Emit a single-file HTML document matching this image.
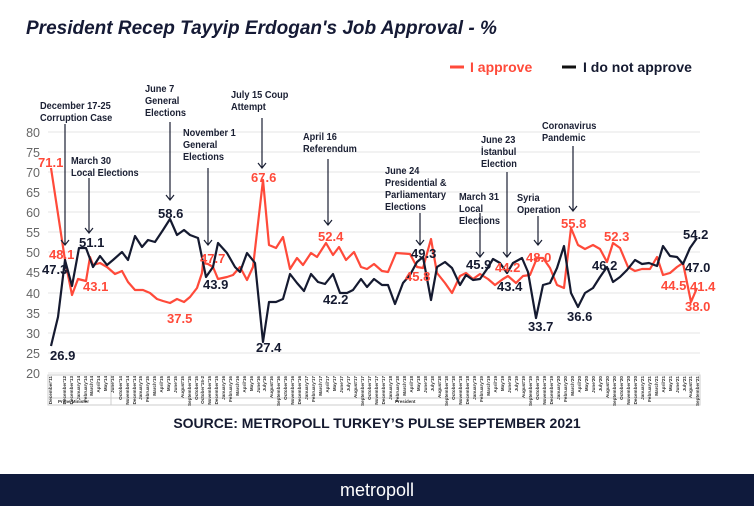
<!DOCTYPE html>
<html><head><meta charset="utf-8"><style>
body{margin:0;background:#fff;width:754px;height:506px;overflow:hidden;font-family:"Liberation Sans",sans-serif}
svg{display:block}
.an{font:bold 10.5px "Liberation Sans",sans-serif;fill:#1a1f33}
.vr{font:bold 13px "Liberation Sans",sans-serif;fill:#ff4a3a}
.vb{font:bold 13px "Liberation Sans",sans-serif;fill:#151a30}
.yl{font:12.5px "Liberation Sans",sans-serif;fill:#666}
.xl{font:bold 4.6px "Liberation Sans",sans-serif;fill:#333}
</style></head><body>
<svg width="754" height="506" viewBox="0 0 754 506" xmlns="http://www.w3.org/2000/svg">
<text x="26" y="34" style="font:italic bold 19px 'Liberation Sans',sans-serif;fill:#151a35">President Recep Tayyip Erdogan's Job Approval - %</text>
<line x1="450" y1="67" x2="464" y2="67" stroke="#ff4a3a" stroke-width="3"/>
<text x="470" y="72" style="font:bold 14px 'Liberation Sans',sans-serif;fill:#ff4a3a">I approve</text>
<line x1="562" y1="67" x2="576" y2="67" stroke="#111" stroke-width="3"/>
<text x="583" y="72" style="font:bold 14px 'Liberation Sans',sans-serif;fill:#151a30">I do not approve</text>
<g stroke="#e4e4e4" stroke-width="1">
<line x1="48" y1="132" x2="700" y2="132"/><line x1="48" y1="152" x2="700" y2="152"/><line x1="48" y1="172" x2="700" y2="172"/><line x1="48" y1="192" x2="700" y2="192"/><line x1="48" y1="212" x2="700" y2="212"/><line x1="48" y1="232" x2="700" y2="232"/><line x1="48" y1="252" x2="700" y2="252"/><line x1="48" y1="272" x2="700" y2="272"/><line x1="48" y1="293" x2="700" y2="293"/><line x1="48" y1="313" x2="700" y2="313"/><line x1="48" y1="333" x2="700" y2="333"/><line x1="48" y1="353" x2="700" y2="353"/><line x1="48" y1="373" x2="700" y2="373"/>
</g>
<g class="yl" text-anchor="end">
<text x="40" y="137">80</text><text x="40" y="157">75</text><text x="40" y="177">70</text><text x="40" y="197">65</text><text x="40" y="217">60</text><text x="40" y="237">55</text><text x="40" y="257">50</text><text x="40" y="277">45</text><text x="40" y="298">40</text><text x="40" y="318">35</text><text x="40" y="338">30</text><text x="40" y="358">25</text><text x="40" y="378">20</text>
</g>
<rect x="48" y="375" width="652" height="30" fill="none" stroke="#ccc"/>
<line x1="48" y1="398" x2="700" y2="398" stroke="#ccc"/>
<line x1="111" y1="375" x2="111" y2="405" stroke="#ccc"/>
<text x="58" y="403" style="font:bold 4.5px 'Liberation Sans';fill:#333">Prime Minister</text>
<text x="395" y="403" style="font:bold 4.5px 'Liberation Sans';fill:#333">President</text>
<g class="xl" text-anchor="end">
<text transform="translate(52,376) rotate(-90)">December'11</text><text transform="translate(66,376) rotate(-90)">December'12</text><text transform="translate(73,376) rotate(-90)">December'13</text><text transform="translate(80,376) rotate(-90)">January'14</text><text transform="translate(87,376) rotate(-90)">February'14</text><text transform="translate(93,376) rotate(-90)">March'14</text><text transform="translate(100,376) rotate(-90)">April'14</text><text transform="translate(107,376) rotate(-90)">May'14</text><text transform="translate(114,376) rotate(-90)">June'14</text><text transform="translate(122,376) rotate(-90)">October'14</text><text transform="translate(129,376) rotate(-90)">November'14</text><text transform="translate(136,376) rotate(-90)">December'14</text><text transform="translate(142,376) rotate(-90)">January'15</text><text transform="translate(149,376) rotate(-90)">February'15</text><text transform="translate(156,376) rotate(-90)">March'15</text><text transform="translate(163,376) rotate(-90)">April'15</text><text transform="translate(170,376) rotate(-90)">May'15</text><text transform="translate(177,376) rotate(-90)">June'15</text><text transform="translate(184,376) rotate(-90)">August'15</text><text transform="translate(191,376) rotate(-90)">September'15</text><text transform="translate(198,376) rotate(-90)">October'15</text><text transform="translate(204,376) rotate(-90)">October'15-2</text><text transform="translate(211,376) rotate(-90)">November'15</text><text transform="translate(218,376) rotate(-90)">December'15</text><text transform="translate(225,376) rotate(-90)">January'16</text><text transform="translate(232,376) rotate(-90)">February'16</text><text transform="translate(239,376) rotate(-90)">March'16</text><text transform="translate(246,376) rotate(-90)">April'16</text><text transform="translate(253,376) rotate(-90)">May'16</text><text transform="translate(260,376) rotate(-90)">June'16</text><text transform="translate(266,376) rotate(-90)">July'16</text><text transform="translate(273,376) rotate(-90)">August'16</text><text transform="translate(280,376) rotate(-90)">September'16</text><text transform="translate(287,376) rotate(-90)">October'16</text><text transform="translate(294,376) rotate(-90)">November'16</text><text transform="translate(301,376) rotate(-90)">December'16</text><text transform="translate(308,376) rotate(-90)">January'17</text><text transform="translate(315,376) rotate(-90)">February'17</text><text transform="translate(322,376) rotate(-90)">March'17</text><text transform="translate(329,376) rotate(-90)">April'17</text><text transform="translate(336,376) rotate(-90)">May'17</text><text transform="translate(343,376) rotate(-90)">June'17</text><text transform="translate(350,376) rotate(-90)">July'17</text><text transform="translate(357,376) rotate(-90)">August'17</text><text transform="translate(364,376) rotate(-90)">September'17</text><text transform="translate(371,376) rotate(-90)">October'17</text><text transform="translate(378,376) rotate(-90)">November'17</text><text transform="translate(385,376) rotate(-90)">December'17</text><text transform="translate(392,376) rotate(-90)">January'18</text><text transform="translate(399,376) rotate(-90)">February'18</text><text transform="translate(406,376) rotate(-90)">March'18</text><text transform="translate(413,376) rotate(-90)">April'18</text><text transform="translate(420,376) rotate(-90)">May'18</text><text transform="translate(427,376) rotate(-90)">June'18</text><text transform="translate(434,376) rotate(-90)">July'18</text><text transform="translate(441,376) rotate(-90)">August'18</text><text transform="translate(448,376) rotate(-90)">September'18</text><text transform="translate(455,376) rotate(-90)">October'18</text><text transform="translate(462,376) rotate(-90)">November'18</text><text transform="translate(469,376) rotate(-90)">December'18</text><text transform="translate(476,376) rotate(-90)">January'19</text><text transform="translate(483,376) rotate(-90)">February'19</text><text transform="translate(490,376) rotate(-90)">March'19</text><text transform="translate(497,376) rotate(-90)">April'19</text><text transform="translate(504,376) rotate(-90)">May'19</text><text transform="translate(511,376) rotate(-90)">June'19</text><text transform="translate(518,376) rotate(-90)">July'19</text><text transform="translate(525,376) rotate(-90)">August'19</text><text transform="translate(532,376) rotate(-90)">September'19</text><text transform="translate(539,376) rotate(-90)">October'19</text><text transform="translate(546,376) rotate(-90)">November'19</text><text transform="translate(553,376) rotate(-90)">December'19</text><text transform="translate(560,376) rotate(-90)">January'20</text><text transform="translate(567,376) rotate(-90)">February'20</text><text transform="translate(574,376) rotate(-90)">March'20</text><text transform="translate(581,376) rotate(-90)">April'20</text><text transform="translate(588,376) rotate(-90)">May'20</text><text transform="translate(595,376) rotate(-90)">June'20</text><text transform="translate(602,376) rotate(-90)">July'20</text><text transform="translate(609,376) rotate(-90)">August'20</text><text transform="translate(616,376) rotate(-90)">September'20</text><text transform="translate(623,376) rotate(-90)">October'20</text><text transform="translate(630,376) rotate(-90)">November'20</text><text transform="translate(637,376) rotate(-90)">December'20</text><text transform="translate(644,376) rotate(-90)">January'21</text><text transform="translate(651,376) rotate(-90)">February'21</text><text transform="translate(658,376) rotate(-90)">March'21</text><text transform="translate(665,376) rotate(-90)">April'21</text><text transform="translate(672,376) rotate(-90)">May'21</text><text transform="translate(679,376) rotate(-90)">June'21</text><text transform="translate(686,376) rotate(-90)">July'21</text><text transform="translate(692,376) rotate(-90)">August'21</text><text transform="translate(699,376) rotate(-90)">September'21</text>
</g>
<polyline fill="none" stroke="#ff4a3a" stroke-width="2.2" stroke-linejoin="round" points="51,168 65,260 72,295 78,279 86,281 90,257 93,265 100,263 107,267 115,274 122,271 128,282 135,290 143,290 150,293 157,299 163,301 170,303 177,299 184,302 190,297 197,288 202,273 203,263 208,264 213,267 218,279 227,277 233,275 240,267 247,280 253,267 263,180 269,245 276,248 283,237 290,269 297,258 303,265 311,253 317,257 326,243 333,255 339,247 346,260 354,252 361,267 367,269 374,264 382,271 388,272 396,253 410,254 417,267 423,268 431,239 437,273 445,283 452,293 460,276 466,273 473,279 480,274 488,279 495,285 503,279 508,276 516,283 523,276 530,275 537,258 543,258 550,268 557,285 564,288 571,228 578,245 585,249 593,245 600,249 607,262 613,243 620,248 628,267 635,271 642,269 650,269 657,257 663,275 670,273 677,267 683,263 691,302 697,288"/>
<polyline fill="none" stroke="#151a30" stroke-width="2.2" stroke-linejoin="round" points="51,346 58,317 65,260 72,286 79,248 86,248 93,267 100,256 107,265 113,260 122,252 128,260 135,236 142,247 148,240 155,242 163,230 170,219 177,235 184,230 190,235 198,238 206,277 213,267 218,243 227,253 235,267 240,272 247,253 255,263 263,342 269,302 276,302 283,299 290,274 297,283 304,291 311,274 318,282 325,284 333,274 340,293 347,293 353,290 361,279 367,287 374,279 382,285 388,285 395,304 403,283 410,275 417,262 423,257 431,300 437,267 445,262 452,268 460,285 466,275 473,280 480,279 487,269 493,259 500,263 507,273 513,263 522,258 528,272 536,318 543,285 550,283 557,268 564,246 571,293 578,307 585,293 593,288 600,277 607,267 613,282 620,277 627,270 635,260 642,264 649,263 657,266 663,246 670,256 677,257 683,264 690,248 697,238"/>
<g stroke="#1a1f33" stroke-width="1.2" fill="none">
<path d="M65,124V245M61,240l4,5l4,-5"/>
<path d="M170,122V200M166,195l4,5l4,-5"/>
<path d="M262,118V168M258,163l4,5l4,-5"/>
<path d="M208,168V245M204,240l4,5l4,-5"/>
<path d="M89,178V233M85,228l4,5l4,-5"/>
<path d="M328,159V225M324,220l4,5l4,-5"/>
<path d="M420,213V245M416,240l4,5l4,-5"/>
<path d="M480,213V257M476,252l4,5l4,-5"/>
<path d="M507,172V257M503,252l4,5l4,-5"/>
<path d="M538,216V245M534,240l4,5l4,-5"/>
<path d="M573,146V211M569,206l4,5l4,-5"/>
</g>
<g class="an">
<g transform="translate(40,0) scale(0.88,1)"><text x="0" y="109">December 17-25</text><text x="0" y="121">Corruption Case</text></g>
<g transform="translate(145,0) scale(0.88,1)"><text x="0" y="92">June 7</text><text x="0" y="104">General</text><text x="0" y="116">Elections</text></g>
<g transform="translate(231,0) scale(0.88,1)"><text x="0" y="98">July 15 Coup</text><text x="0" y="110">Attempt</text></g>
<g transform="translate(183,0) scale(0.88,1)"><text x="0" y="136">November 1</text><text x="0" y="148">General</text><text x="0" y="160">Elections</text></g>
<g transform="translate(71,0) scale(0.88,1)"><text x="0" y="164">March 30</text><text x="0" y="176">Local Elections</text></g>
<g transform="translate(303,0) scale(0.88,1)"><text x="0" y="140">April 16</text><text x="0" y="152">Referendum</text></g>
<g transform="translate(385,0) scale(0.88,1)"><text x="0" y="174">June 24</text><text x="0" y="186">Presidential &amp;</text><text x="0" y="198">Parliamentary</text><text x="0" y="210">Elections</text></g>
<g transform="translate(459,0) scale(0.88,1)"><text x="0" y="200">March 31</text><text x="0" y="212">Local</text><text x="0" y="224">Elections</text></g>
<g transform="translate(481,0) scale(0.88,1)"><text x="0" y="143">June 23</text><text x="0" y="155">İstanbul</text><text x="0" y="167">Election</text></g>
<g transform="translate(517,0) scale(0.88,1)"><text x="0" y="201">Syria</text><text x="0" y="213">Operation</text></g>
<g transform="translate(542,0) scale(0.88,1)"><text x="0" y="129">Coronavirus</text><text x="0" y="141">Pandemic</text></g>
</g>
<g class="vr">
<text x="38" y="167">71.1</text><text x="49" y="259">48.1</text><text x="83" y="291">43.1</text><text x="167" y="323">37.5</text><text x="200" y="263">47.7</text><text x="251" y="182">67.6</text><text x="318" y="241">52.4</text><text x="405" y="281">45.8</text><text x="495" y="272">44.2</text><text x="526" y="262">48.0</text><text x="561" y="228">55.8</text><text x="604" y="241">52.3</text><text x="661" y="290">44.5</text><text x="690" y="291">41.4</text><text x="685" y="311">38.0</text>
</g>
<g class="vb">
<text x="50" y="360">26.9</text><text x="42" y="274">47.3</text><text x="79" y="247">51.1</text><text x="158" y="218">58.6</text><text x="203" y="289">43.9</text><text x="256" y="352">27.4</text><text x="323" y="304">42.2</text><text x="411" y="258">49.3</text><text x="466" y="269">45.9</text><text x="497" y="291">43.4</text><text x="528" y="331">33.7</text><text x="567" y="321">36.6</text><text x="592" y="270">46.2</text><text x="683" y="239">54.2</text><text x="685" y="272">47.0</text>
</g>
<text x="377" y="428" text-anchor="middle" style="font:bold 14px 'Liberation Sans',sans-serif;fill:#151a30">SOURCE: METROPOLL TURKEY’S PULSE SEPTEMBER 2021</text>
<rect x="0" y="474" width="754" height="32" fill="#0f1a3c"/>
<text x="377" y="496" text-anchor="middle" style="font:18px 'Liberation Sans',sans-serif;fill:#fff">metropoll</text>
</svg>
</body></html>
